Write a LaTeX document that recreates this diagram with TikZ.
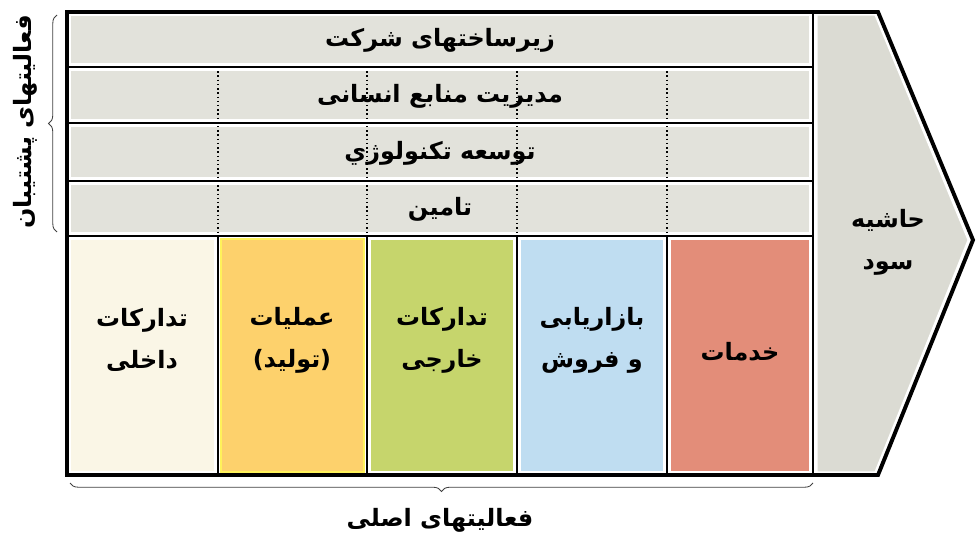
\documentclass[tikz,border=0pt]{standalone}
\usepackage{fontspec}
\usepackage{xcolor}
\usepackage{tikz}
\usetikzlibrary{calc}
\usetikzlibrary{decorations.pathreplacing}
\TeXXeTstate=1
\newfontfamily\arabicfont[Script=Arabic]{DejaVu Sans}
\newcommand{\fatext}[1]{\beginR #1\endR}
\definecolor{supgray}{HTML}{E2E2DB}
\definecolor{margray}{HTML}{DBDBD3}
\definecolor{inbcol}{HTML}{FAF6E6}
\definecolor{opcol}{HTML}{FDD16C}
\definecolor{opedge}{HTML}{FFF25A}
\definecolor{outcol}{HTML}{C6D56C}
\definecolor{mktcol}{HTML}{BFDDF1}
\definecolor{srvcol}{HTML}{E38D79}

\begin{document}
\begin{tikzpicture}[x=0.025cm,y=-0.025cm,
	cell/.style={draw=white,line width=0.8pt},
	grid/.style={line width=2pt,black},
	lbl/.style={font=\arabicfont\bfseries\fontsize{17}{30}\selectfont,align=center}]
	\useasboundingbox (0,0) rectangle (980,546);
	% support rows
	\filldraw[cell,fill=supgray] (70,15) rectangle (810,64);
	\filldraw[cell,fill=supgray] (70,70) rectangle (810,120);
	\filldraw[cell,fill=supgray] (70,126) rectangle (810,178);
	\filldraw[cell,fill=supgray] (70,184) rectangle (810,233);
	% primary cells
	\foreach \xa/\xb/\col/\edge in {67/218/inbcol/white,218/367/opcol/opedge,367/517/outcol/white,517/667/mktcol/white,667/813/srvcol/white}
		\filldraw[cell,fill=\col,draw=\edge] (\xa+3,239) rectangle (\xb-3,472);
	% margin arrow
	\filldraw[cell,fill=margray] (817,15) -- (875,15) -- (968,240) -- (875,472) -- (817,472) -- cycle;
	% lines
	\foreach \y in {67,123,181,236}
		\draw[grid] (67,\y) -- (813,\y);
	\draw[grid] (813,12) -- (813,475);
	\foreach \x in {218,367,517,667} {
		\draw[grid] (\x,236) -- (\x,475);
		\draw[dotted,line width=1pt] (\x,67) -- (\x,236);
	}
	\draw[line width=2.8pt,line join=miter] (67,12) -- (878,12) -- (973,240) -- (878,475) -- (67,475) -- cycle;
	% braces
	\draw[decorate,decoration={brace,amplitude=6pt},line width=0.6pt,black!75] (57,232) -- (57,15);
	\draw[decorate,decoration={brace,amplitude=6pt,mirror},line width=0.6pt,black!75] (70,483) -- (813,483);
	% texts
	\node[lbl] (infra) at (440,40) {\fatext{زیرساختهای شرکت}};
	\node[lbl] (hrm) at (440,96) {\fatext{مدیریت منابع انسانی}};
	\node[lbl] (tech) at (440,153) {\fatext{توسعه تکنولوژي}};
	\node[lbl] (proc) at (440,209) {\fatext{تامین}};
	\node[lbl] (inlog) at (142,340) {\fatext{تدارکات}\\\fatext{داخلی}};
	\node[lbl] (ops) at (292,340) {\fatext{عملیات}\\\fatext{(تولید)}};
	\node[lbl] (outlog) at (442,340) {\fatext{تدارکات}\\\fatext{خارجی}};
	\node[lbl] (mkt) at (592,340) {\fatext{بازاریابی}\\\fatext{و فروش}};
	\node[lbl] (srv) at (740,352) {\fatext{خدمات}};
	\node[lbl] (margin) at (888,242) {\fatext{حاشیه}\\\fatext{سود}};
	\node[lbl,rotate=90] (suplbl) at (25,122) {\fatext{فعالیتهای پشتیبان}};
	\node[lbl] (prilbl) at (440,520) {\fatext{فعالیتهای اصلی}};
\end{tikzpicture}
\end{document}
